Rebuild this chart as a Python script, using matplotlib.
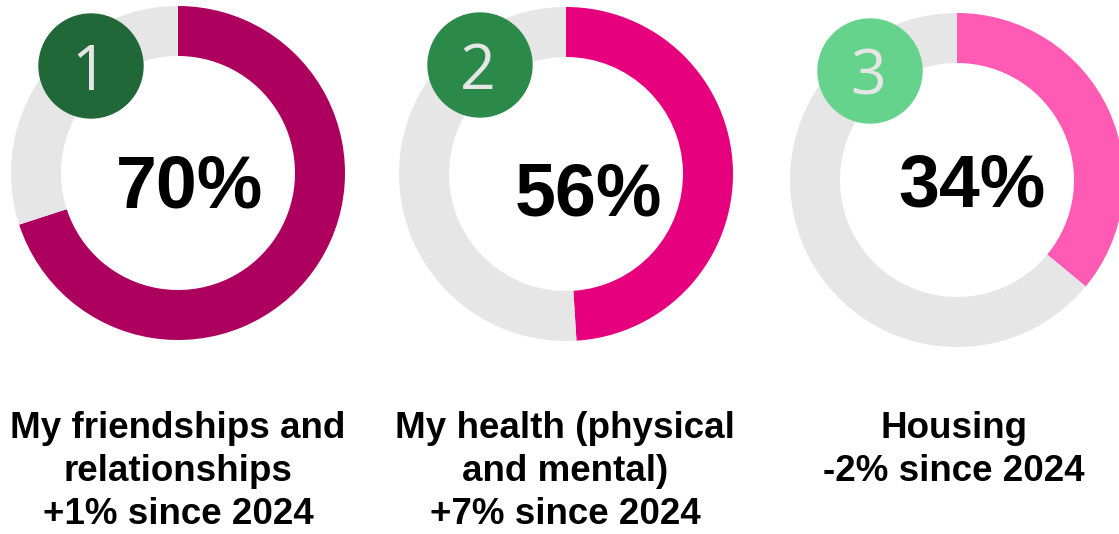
import matplotlib.pyplot as plt
from matplotlib.patches import Circle

W, H = 1119, 534

# data
pct_text = [70, 56, 34]        # printed values
ring_share = [70, 49, 36]      # share of ring filled, as drawn in the picture
ranks = ['1', '2', '3']
labels = ['My friendships and\nrelationships\n+1% since 2024',
          'My health (physical\nand mental)\n+7% since 2024',
          'Housing\n-2% since 2024']
ring_colors = ['#AD005E', '#E6007E', '#FF5AB4']
badge_colors = ['#216838', '#2B8A4A', '#66D38C']

# layout (pixel coords, y measured from top)
centers = [(178, 173), (566, 174), (957, 180)]
radius = 167
ring_width = 50
badges = [(91, 66), (480, 65), (870, 71)]
badge_r = 52
pct_offsets = [(12, 15), (22, 22), (15, 7)]
label_x = [178, 565, 954]
label_top = 411


def flip(y):
   return H - y


fig = plt.figure(figsize=(W / 100, H / 100), dpi=100)
ax = fig.add_axes([0, 0, 1, 1])

for i in range(len(ring_share)):
   cx, cy = centers[i]
   ax.pie([ring_share[i], 100 - ring_share[i]], colors=[ring_colors[i], '#E6E6E6'],
          startangle=90, counterclock=False, radius=radius,
          center=(cx, flip(cy)), wedgeprops={'width': ring_width, 'linewidth': 0})

   bx, by = badges[i]
   ax.add_patch(Circle((bx, flip(by)), badge_r, color=badge_colors[i], zorder=5))
   ax.text(bx - 2, flip(by), ranks[i], ha='center', va='center_baseline', fontsize=45,
           family='Open Sans', fontweight='medium', color='#E6E6E6', zorder=6)

   dx, dy = pct_offsets[i]
   ax.text(cx + dx, flip(cy + dy), f'{pct_text[i]}%', ha='center', va='center',
           fontsize=53, fontweight='bold', family='Liberation Sans', color='black', zorder=7)

   ax.text(label_x[i], flip(label_top), labels[i], ha='center', va='top',
           fontsize=26.5, fontweight='bold', family='Liberation Sans', linespacing=1.3)

ax.set_xlim(0, W)
ax.set_ylim(0, H)
ax.set_aspect('equal')
ax.axis('off')

fig.savefig('out.png', dpi=100)
